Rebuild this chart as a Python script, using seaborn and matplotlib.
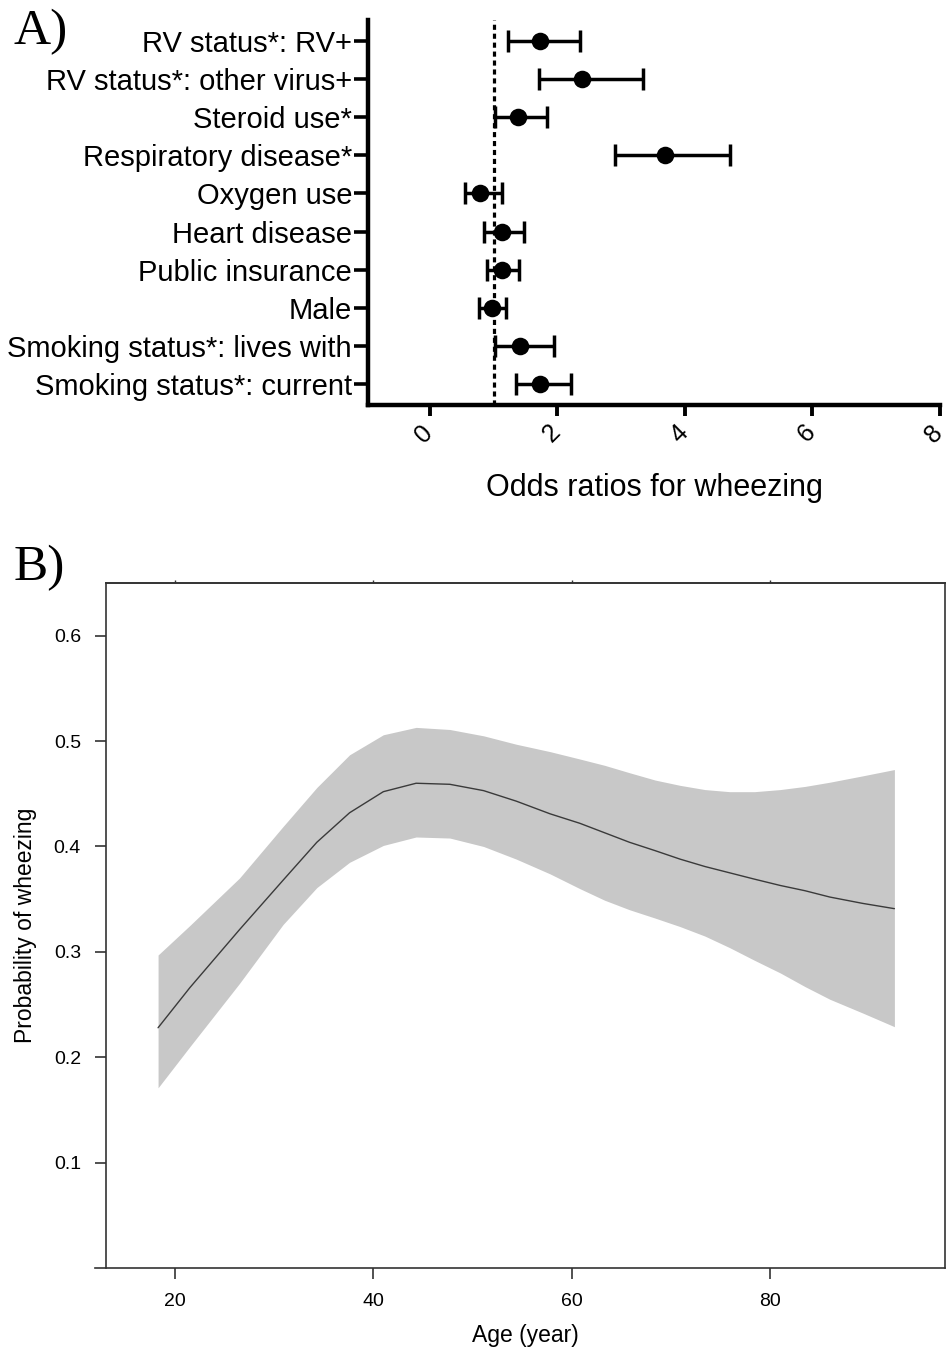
import numpy as np
import pandas as pd
import matplotlib
matplotlib.use("Agg")
import matplotlib.pyplot as plt
import matplotlib.transforms as mtransforms
import seaborn as sns

# ---------------- Data: panel A (odds ratios) ----------------
labels_a = ["RV status*: RV+", "RV status*: other virus+", "Steroid use*",
            "Respiratory disease*", "Oxygen use", "Heart disease",
            "Public insurance", "Male", "Smoking status*: lives with",
            "Smoking status*: current"]
or_est = [1.72, 2.39, 1.38, 3.69, 0.79, 1.13, 1.13, 0.98, 1.41, 1.73]
or_low = [1.23, 1.71, 1.02, 2.90, 0.55, 0.85, 0.89, 0.77, 1.02, 1.35]
or_high = [2.36, 3.35, 1.84, 4.70, 1.13, 1.48, 1.40, 1.20, 1.95, 2.21]
xticks_a = [0, 2, 4, 6, 8]

# ---------------- Data: panel B (probability curve) ----------------
age = [18.3, 21.5, 26.5, 30.9, 34.3, 37.6, 41.0, 44.3, 47.7, 51.1, 54.4,
       57.8, 60.8, 63.3, 65.8, 68.4, 70.9, 73.4, 75.9, 78.4, 81.0, 83.5,
       86.0, 89.3, 92.5]
prob = [0.228, 0.266, 0.321, 0.368, 0.404, 0.432, 0.452, 0.460, 0.459,
        0.453, 0.443, 0.431, 0.422, 0.413, 0.404, 0.396, 0.388, 0.381,
        0.375, 0.369, 0.363, 0.358, 0.352, 0.346, 0.341]
prob_up = [0.297, 0.325, 0.370, 0.419, 0.456, 0.487, 0.506, 0.513, 0.511,
           0.505, 0.497, 0.490, 0.483, 0.477, 0.470, 0.463, 0.458, 0.454,
           0.452, 0.452, 0.454, 0.457, 0.461, 0.467, 0.473]
prob_lo = [0.171, 0.210, 0.270, 0.326, 0.361, 0.385, 0.401, 0.409, 0.408,
           0.400, 0.388, 0.374, 0.360, 0.349, 0.340, 0.332, 0.324, 0.315,
           0.304, 0.292, 0.280, 0.267, 0.255, 0.242, 0.229]
xticks_b = [20, 40, 60, 80]
yticks_b = [0.1, 0.2, 0.3, 0.4, 0.5, 0.6]

sns.set_style("ticks")
plt.rcParams["font.family"] = ["Liberation Sans", "DejaVu Sans"]
plt.rcParams.update({"text.color": "black", "axes.labelcolor": "black",
                     "xtick.color": "black", "ytick.color": "black",
                     "axes.edgecolor": "black"})

fig = plt.figure(figsize=(9.47, 13.53), dpi=100)

# ================= Panel A =================
axA = fig.add_axes([0.3886, 0.7007, 0.6040, 0.2845])
df_a = pd.DataFrame({"label": labels_a, "est": or_est, "lo": or_low,
                     "hi": or_high, "pos": np.arange(len(labels_a))})
axA.errorbar(df_a["est"], df_a["pos"],
             xerr=[df_a["est"] - df_a["lo"], df_a["hi"] - df_a["est"]],
             fmt="none", ecolor="black", elinewidth=2.5, capsize=8,
             capthick=2.5, zorder=2)
sns.scatterplot(data=df_a, x="est", y="pos", ax=axA, color="black",
                s=160, edgecolor="black", linewidth=0, zorder=3, legend=False)
axA.axvline(1.0, color="black", linestyle=(0, (1.6, 1.2)), linewidth=2.3,
            zorder=1)
axA.set_xlim(-0.97, 8.0)
axA.set_ylim(len(labels_a) - 0.45, -0.55)
axA.set_yticks(df_a["pos"])
axA.set_yticklabels(labels_a, fontsize=21)
axA.set_xticks(xticks_a)
axA.set_xlabel("Odds ratios for wheezing", fontsize=22, labelpad=19)
axA.set_ylabel("")
for s in ["top", "right"]:
    axA.spines[s].set_visible(False)
for s in ["left", "bottom"]:
    axA.spines[s].set_linewidth(3.2)
axA.tick_params(axis="y", length=10, width=2.6, pad=1.5, direction="out")
axA.tick_params(axis="x", length=8, width=2.8, pad=3, direction="out")
axA.set_xticklabels([str(t) for t in xticks_a], rotation=45, fontsize=18,
                    ha="center", va="top")
shift = mtransforms.ScaledTranslation(-6 / 100, 0, fig.dpi_scale_trans)
for lab in axA.get_xticklabels():
    lab.set_transform(lab.get_transform() + shift)

# ================= Panel B =================
axB = fig.add_axes([0.1119, 0.0628, 0.8860, 0.5063])
axB.fill_between(age, prob_lo, prob_up, color="#c8c8c8", linewidth=0,
                 zorder=1)
sns.lineplot(x=age, y=prob, ax=axB, color="#3a3a3a", linewidth=1.0,
             zorder=2)
axB.set_xlim(13.05, 97.6)
axB.set_ylim(0.0, 0.65)
axB.set_xticks(xticks_b)
axB.set_xticklabels([str(t) for t in xticks_b], fontsize=14)
axB.set_yticks(yticks_b)
axB.set_yticklabels([f"{t:.1f}" for t in yticks_b], fontsize=14)
axB.set_xlabel("Age (year)", fontsize=16.5, labelpad=10)
axB.set_ylabel("Probability of wheezing", fontsize=16.5, labelpad=12)
for s in axB.spines.values():
    s.set_linewidth(1.2)
    s.set_color("#333333")
axB.spines["bottom"].set_bounds(11.9, 97.6)
axB.tick_params(axis="both", length=8, width=1.2, color="#333333",
                direction="out", pad=10)
secB = axB.secondary_xaxis("top")
secB.set_xticks(xticks_b)
secB.tick_params(axis="x", length=2, width=1.0, color="#333333",
                 labeltop=False, labelbottom=False)
secB.set_xticklabels([])
secB.spines["top"].set_linewidth(1.2)
secB.spines["top"].set_color("#333333")

# Panel letters
fig.text(0.014, 0.967, "A)", fontsize=37,
         family=["Liberation Serif", "DejaVu Serif"])
fig.text(0.014, 0.571, "B)", fontsize=37,
         family=["Liberation Serif", "DejaVu Serif"])

fig.savefig("out.png", dpi=100)
